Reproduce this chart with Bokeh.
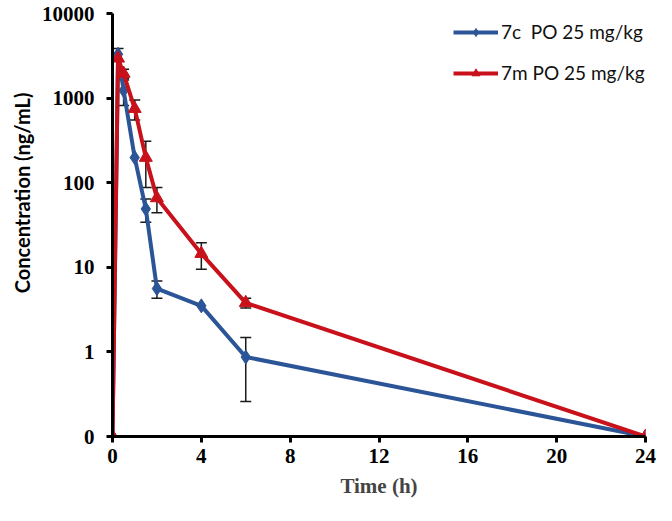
from bokeh.plotting import figure
from bokeh.models import (ColumnDataSource, FixedTicker, Whisker, TeeHead,
                          Legend, LegendItem, Title)
from bokeh.embed import file_html
from bokeh.resources import INLINE

# ---- data (0.1 is the log-axis floor, labelled "0" as in the original) ----
time_7c = [0, 0.25, 0.5, 1, 1.5, 2, 4, 6, 24]
conc_7c = [0.1, 3300, 1230, 198, 49, 5.6, 3.5, 0.87, 0.1]
err_7c = [0, 550, 410, 0, 15, 1.3, 0, 0.61, 0]

time_7m = [0, 0.25, 0.5, 1, 1.5, 2, 4, 6, 24]
conc_7m = [0.1, 2950, 1950, 750, 198, 66, 14.5, 3.8, 0.1]
err_7m = [0, 0, 250, 200, 110, 22, 5, 0.5, 0]

label_7c = "7c  PO 25 mg/kg"
label_7m = "7m PO 25 mg/kg"

x_ticks = [0, 4, 8, 12, 16, 20, 24]
y_ticks = [0.1, 1, 10, 100, 1000, 10000]
y_tick_labels = ["0", "1", "10", "100", "1000", "10000"]

x_title = "Time (h)"
y_title = "Concentration (ng/mL)"

BLUE = "#2B5597"
RED = "#C8111A"

p = figure(width=656, height=505, y_axis_type="log",
           x_range=(0, 24), y_range=(0.1, 10000),
           output_backend="svg", toolbar_location=None,
           min_border_left=112, min_border_right=11,
           min_border_top=13, min_border_bottom=69)
p.outline_line_color = None
p.grid.visible = False
p.background_fill_color = "white"
p.border_fill_color = "white"


def err_src(t, c, e):
    tt, cc, up, lo = [], [], [], []
    for a, b, d in zip(t, c, e):
        if d > 0:
            tt.append(a)
            cc.append(b)
            up.append(b + d)
            lo.append(max(b - d, 0.11))
    return ColumnDataSource(dict(t=tt, c=cc, up=up, lo=lo))


s7c = ColumnDataSource(dict(t=time_7c, c=conc_7c))
s7m = ColumnDataSource(dict(t=time_7m, c=conc_7m))

l1 = p.line("t", "c", source=s7c, line_color=BLUE, line_width=4)
m1 = p.scatter("t", "c", source=s7c, marker="diamond", size=14,
               fill_color=BLUE, line_color=BLUE)
l2 = p.line("t", "c", source=s7m, line_color=RED, line_width=4)
m2 = p.scatter("t", "c", source=s7m, marker="triangle", size=13,
               fill_color=RED, line_color=RED)

for src in (err_src(time_7c, conc_7c, err_7c), err_src(time_7m, conc_7m, err_7m)):
    w = Whisker(source=src, base="t", upper="up", lower="lo", dimension="height",
                line_color="#1a1a1a", line_width=1.5,
                upper_head=TeeHead(size=11, line_color="#1a1a1a", line_width=1.5),
                lower_head=TeeHead(size=11, line_color="#1a1a1a", line_width=1.5))
    p.add_layout(w)

legend = Legend(items=[LegendItem(label=label_7c, renderers=[l1, m1]),
                       LegendItem(label=label_7m, renderers=[l2, m2])],
                location=(341, 352), padding=0, margin=0, spacing=18,
                glyph_width=45, glyph_height=20, label_height=20,
                label_standoff=3, border_line_color=None,
                background_fill_alpha=0,
                label_text_font="Lato", label_text_font_size="19px",
                label_text_color="#111111")
p.add_layout(legend)

for ax in (p.xaxis[0], p.yaxis[0]):
    ax.axis_line_width = 3
    ax.axis_line_color = "black"
    ax.major_tick_line_width = 3
    ax.major_tick_line_color = "black"
    ax.major_tick_out = 6
    ax.major_tick_in = 0
    ax.minor_tick_line_color = None
    ax.major_label_text_font = "Liberation Serif"
    ax.major_label_text_font_style = "bold"
    ax.major_label_text_font_size = "21px"
    ax.major_label_text_color = "black"

p.xaxis.ticker = FixedTicker(ticks=x_ticks)
p.xaxis.major_label_standoff = 6
p.xaxis.axis_label = x_title
p.xaxis.axis_label_text_font = "Liberation Serif"
p.xaxis.axis_label_text_font_style = "bold"
p.xaxis.axis_label_text_font_size = "21px"
p.xaxis.axis_label_standoff = 8

p.yaxis.ticker = FixedTicker(ticks=y_ticks)
p.yaxis.major_label_overrides = dict(zip(y_ticks, y_tick_labels))
p.yaxis.major_label_standoff = 12

ytitle = Title(text=y_title, align="right", offset=79, standoff=10,
               text_font="Lato", text_font_style="bold", text_font_size="20px",
               text_color="black")
p.add_layout(ytitle, "left")

open("out.html", "w").write(file_html(p, INLINE))
